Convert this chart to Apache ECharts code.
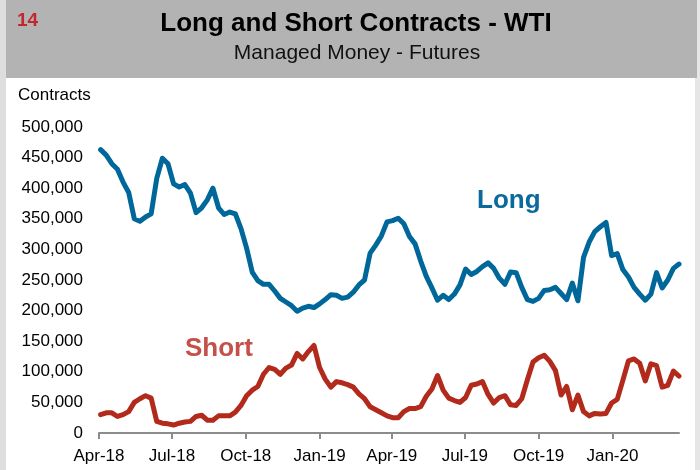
<!DOCTYPE html>
<html>
<head>
<meta charset="utf-8">
<script src="https://cdn.jsdelivr.net/npm/echarts@6/dist/echarts.min.js"></script>
<style>
  html, body { margin: 0; padding: 0; background: #fff; }
  #chart { width: 700px; height: 470px; }
</style>
</head>
<body>
<div id="chart"></div>
<script>
'use strict';

// weekly CFTC report dates, first one and count
var firstWeek = '2018-04-03';

// managed money long positions, thousands of contracts
var longK = [
  463, 454, 440, 431, 410, 393, 350, 346, 353, 358,
  416, 449, 440, 407, 402, 406, 392, 360, 368, 381,
  400, 368, 357, 361, 358, 334, 302, 263, 249, 243,
  243, 232, 220, 214, 208, 199, 204, 207, 205, 211,
  218, 226, 225, 220, 222, 230, 242, 250, 294, 307,
  322, 345, 347, 351, 342, 321, 309, 281, 256, 237,
  217, 225, 218, 227, 242, 268, 259, 264, 272, 278,
  269, 253, 243, 263, 262, 238, 218, 215, 220, 233,
  234, 238, 228, 218, 245, 216, 287, 312, 329, 337,
  344, 290, 293, 267, 255, 238, 227, 217, 227, 262,
  237, 250, 269, 276
];

// managed money short positions, thousands of contracts
var shortK = [
  30, 33, 33, 27, 30, 35, 50, 56, 61, 57,
  19, 16, 15, 13, 16, 18, 19, 27, 29, 21,
  21, 28, 28, 28, 34, 45, 61, 70, 76, 96,
  107, 104, 96, 106, 111, 130, 121, 133, 143, 107,
  88, 75, 84, 82, 79, 75, 64, 56, 43, 38,
  33, 28, 25, 25, 35, 40, 40, 43, 60, 72,
  94, 70, 57, 53, 50, 58, 78, 80, 84, 63,
  49, 58, 61, 46, 45, 56, 87, 116, 123, 127,
  117, 102, 62, 76, 38, 62, 35, 28, 32, 31,
  32, 49, 55, 86, 118, 121, 114, 85, 113, 110,
  75, 78, 101, 93
];

// quarter marks on the date axis
var quarterTicks = ['2018-04-01', '2018-07-01', '2018-10-01', '2019-01-01',
  '2019-04-01', '2019-07-01', '2019-10-01', '2020-01-01'];
var monthNames = ['Jan', 'Feb', 'Mar', 'Apr', 'May', 'Jun',
  'Jul', 'Aug', 'Sep', 'Oct', 'Nov', 'Dec'];

var DAY = 86400000;
var t0 = Date.parse(firstWeek);
function pairs(arr) {
  return arr.map(function (v, i) {
    return [t0 + i * 7 * DAY, v * 1000];
  });
}
var qt = quarterTicks.map(function (d) { return Date.parse(d); });

var myChart = echarts.init(document.getElementById('chart'));

var option = {
  backgroundColor: '#fff',
  animation: false,
  textStyle: { fontFamily: 'Liberation Sans, Arial, sans-serif' },
  graphic: [
    { type: 'rect', left: 0, top: 0, shape: { width: 6, height: 470 }, style: { fill: '#dedede' }, z: -1 },
    { type: 'rect', left: 695, top: 0, shape: { width: 5, height: 470 }, style: { fill: '#e6e6e6' }, z: -1 },
    { type: 'rect', left: 6, top: 0, shape: { width: 691, height: 78 }, style: { fill: '#b3b3b3' }, z: -1 },
    {
      type: 'text', left: 17, top: 11,
      style: { text: '14', fill: '#c0282d', font: 'bold 19px Liberation Sans, Arial' }
    },
    {
      type: 'text', x: 356, y: 24,
      style: {
        text: 'Long and Short Contracts - WTI', fill: '#000',
        font: 'bold 26px Liberation Sans, Arial', align: 'center', verticalAlign: 'middle'
      }
    },
    {
      type: 'text', x: 357, y: 53,
      style: {
        text: 'Managed Money - Futures', fill: '#111',
        font: '21px Liberation Sans, Arial', align: 'center', verticalAlign: 'middle'
      }
    },
    {
      type: 'text', left: 18, top: 87,
      style: { text: 'Contracts', fill: '#000', font: '17px Liberation Sans, Arial' }
    },
    {
      type: 'text', left: 477, top: 188,
      style: { text: 'Long', fill: '#0a6a9c', font: 'bold 26px Liberation Sans, Arial' }
    },
    {
      type: 'text', left: 185, top: 336,
      style: { text: 'Short', fill: '#c5504a', font: 'bold 26px Liberation Sans, Arial' }
    }
  ],
  grid: { left: 99, right: 21, top: 127, bottom: 37 },
  xAxis: {
    type: 'value',
    min: Date.parse('2018-04-01'),
    max: Date.parse('2020-03-24'),
    splitLine: { show: false },
    axisLine: { lineStyle: { color: '#8c8c8c', width: 2 } },
    axisTick: {
      customValues: qt,
      length: 6,
      lineStyle: { color: '#8c8c8c', width: 2 }
    },
    axisLabel: {
      customValues: qt,
      margin: 15,
      fontSize: 17,
      color: '#000',
      formatter: function (v) {
        var d = new Date(v);
        return monthNames[d.getUTCMonth()] + '-' + String(d.getUTCFullYear()).slice(2);
      }
    }
  },
  yAxis: {
    type: 'value',
    min: 0,
    max: 500000,
    interval: 50000,
    splitLine: { show: false },
    axisLine: { show: false },
    axisTick: { show: false },
    axisLabel: {
      margin: 16,
      fontSize: 17,
      color: '#000',
      formatter: function (v) { return v.toLocaleString('en-US'); }
    }
  },
  series: [
    {
      name: 'Long',
      type: 'line',
      data: pairs(longK),
      showSymbol: false,
      lineStyle: { color: '#00679a', width: 5, join: 'round', cap: 'round' }
    },
    {
      name: 'Short',
      type: 'line',
      data: pairs(shortK),
      showSymbol: false,
      lineStyle: { color: '#b12a1c', width: 5, join: 'round', cap: 'round' }
    }
  ]
};

myChart.setOption(option);
</script>
</body>
</html>
